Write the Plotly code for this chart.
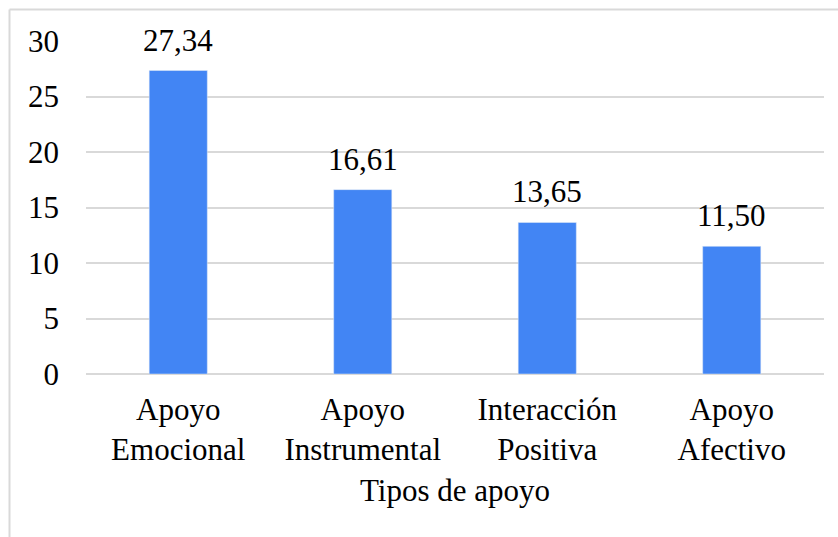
import plotly.graph_objects as go

categorias = ["Apoyo<br>Emocional", "Apoyo<br>Instrumental", "Interacción<br>Positiva", "Apoyo<br>Afectivo"]
valores = [27.34, 16.61, 13.65, 11.50]
etiquetas = ["27,34", "16,61", "13,65", "11,50"]
ticks_y = [0, 5, 10, 15, 20, 25, 30]

fuente = "Liberation Serif"
letra = dict(family=fuente, size=31, color="black")

fig = go.Figure(go.Bar(x=categorias, y=valores, marker_color="#4285F4", width=0.315))

for c, v, t in zip(categorias, valores, etiquetas):
    fig.add_annotation(x=c, y=v, text=t, showarrow=False, yanchor="bottom", yshift=11, font=letra)

# marco del grafico
fig.add_shape(type="line", xref="paper", yref="paper", x0=-76.5 / 738, x1=1.1,
              y0=(374 - 9.5) / 333, y1=(374 - 9.5) / 333, line=dict(color="#d9d9d9", width=2))
fig.add_shape(type="line", xref="paper", yref="paper", x0=-76.5 / 738, x1=-76.5 / 738,
              y0=(374 - 9.5) / 333, y1=-0.7, line=dict(color="#d9d9d9", width=2))

fig.update_layout(
    width=838, height=537,
    margin=dict(l=86, r=14, t=41, b=163),
    paper_bgcolor="white", plot_bgcolor="white",
    font=letra,
    showlegend=False,
)
fig.update_xaxes(title=dict(text="Tipos de apoyo", standoff=13, font=letra), tickfont=letra,
                 ticklabelstandoff=14, showline=False, showgrid=False)
fig.update_yaxes(range=[0, 30], tickvals=ticks_y, tickfont=letra, showgrid=True, gridcolor="#d9d9d9",
                 gridwidth=1.5, zeroline=True, zerolinecolor="#d9d9d9", zerolinewidth=1.5,
                 ticklabelstandoff=26)

fig.write_html("out.html", config={"displayModeBar": False},
               post_script="document.body.style.margin='0';")
